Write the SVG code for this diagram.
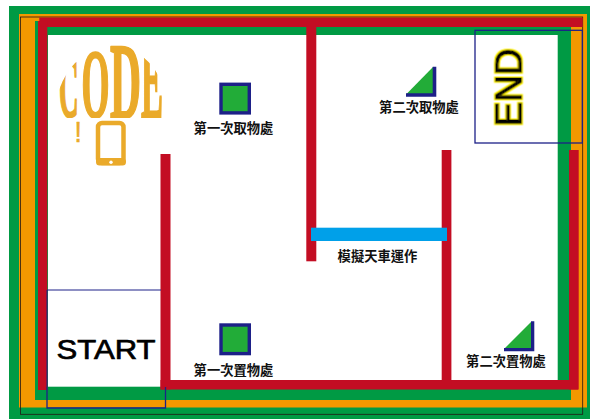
<svg xmlns="http://www.w3.org/2000/svg" width="590" height="419" viewBox="0 0 590 419">
<style>
.red{fill:#c30d23}
.sq{fill:#22ac38;stroke:#1d2088;stroke-width:3.4}
.tri{fill:#22ac38}
.navy{fill:#1d2088}
.box{fill:none;stroke:#1d2088;stroke-width:1.3}
.lbl{font-family:"Noto Sans CJK TC","Noto Sans CJK SC",sans-serif;font-size:13.3px;font-weight:700;fill:#111;text-anchor:middle}
.logo{font-family:"Liberation Serif",serif;font-weight:700;font-size:100px;fill:#eaaa2a;stroke:#eaaa2a;stroke-width:1.800;vector-effect:non-scaling-stroke}
.big{font-family:"Liberation Sans",sans-serif;fill:#000;stroke:#000;stroke-width:.7}
</style>
<defs>
<clipPath id="dome"><path d="M59 118V90Q65 72 80 58L82 46H110L112 44Q130 44 142 56Q156 67 164 87V118Z"/></clipPath>
<filter id="glow" x="-10%" y="-10%" width="120%" height="120%">
<feFlood flood-color="#fff100" result="y"/>
<feMorphology in="SourceAlpha" operator="dilate" radius="1" result="d"/>
<feComposite in="y" in2="d" operator="in" result="o"/>
<feMerge><feMergeNode in="o"/><feMergeNode in="SourceGraphic"/></feMerge>
</filter>
</defs>
<rect width="590" height="419" fill="#fff"/>
<g id="frame">
<rect x="9" y="6" width="581" height="413" fill="#009a44"/>
<rect x="19" y="14" width="568" height="393.500" fill="#f39800"/>
<rect x="35" y="21" width="536" height="379" fill="#009a44"/>
<rect x="48" y="35" width="509.700" height="351.700" fill="#fff"/>
<rect x="20.500" y="17" width="562.200" height="397.300" fill="none" stroke="#231815" stroke-width="0.8"/>
</g>
<g id="walls">
<rect class="red" x="39.300" y="17.500" width="543.400" height="9.500"/>
<rect class="red" x="38" y="21" width="9.300" height="369"/>
<rect class="red" x="160.500" y="154" width="10" height="235.500"/>
<rect class="red" x="160.500" y="380" width="417.500" height="9.500"/>
<rect class="red" x="306.300" y="27" width="10" height="234.300"/>
<rect class="red" x="441.700" y="150" width="9.700" height="232"/>
<rect class="red" x="569" y="150" width="9.700" height="239.500"/>
</g>
<g id="crane">
<rect x="311" y="227.700" width="136" height="13.300" fill="#00a0e9"/>
<text class="lbl" x="377.500" y="261">模擬天車運作</text>
</g>
<g id="first-pick">
<rect class="sq" x="221" y="84.300" width="28.300" height="28.600"/>
<text class="lbl" x="233.500" y="132.500">第一次取物處</text>
</g>
<g id="first-place">
<rect class="sq" x="221" y="325" width="28.300" height="28.600"/>
<text class="lbl" x="233.500" y="374.500">第一次置物處</text>
</g>
<g id="second-pick">
<polygon class="tri" points="406,94.500 433,67 433,94.500"/>
<path class="navy" d="M406 93.200H432.700V66.700H436.300V96.700H406Z"/>
<text class="lbl" x="419" y="112">第二次取物處</text>
</g>
<g id="second-place">
<polygon class="tri" points="504,349 531,322 531,349"/>
<path class="navy" d="M504 348H531V321.300H534.300V351.300H504Z"/>
<text class="lbl" x="506" y="366">第二次置物處</text>
</g>
<g id="start">
<path d="M161 290H47V387" fill="none" stroke="#1d2088" stroke-width="1"/>
<path class="box" d="M47 387V408H165.500V387"/>
<text class="big" x="56.500" y="359" font-size="28" textLength="99" lengthAdjust="spacingAndGlyphs">START</text>
</g>
<g id="end">
<rect class="box" x="475" y="30.300" width="107.300" height="112.700"/>
<text class="big" filter="url(#glow)" transform="translate(521.500 126.500) rotate(-90)" font-size="37" textLength="78" lengthAdjust="spacingAndGlyphs" style="stroke-width:1.200">END</text>
</g>
<g id="logo">
<g clip-path="url(#dome)">
<text class="logo" transform="translate(59 116.500) scale(.27 .84)">C</text>
<text class="logo" transform="translate(81.500 116.500) scale(.36 .97)">O</text>
<text class="logo" transform="translate(110 117.500) scale(.43 1.07)">D</text>
<text class="logo" transform="translate(141 117.500) scale(.33 1.15)">E</text>
</g>
<text class="logo" transform="translate(74.500 141.500) scale(.9 1)" style="font-size:29px;font-family:'Liberation Sans',sans-serif;font-weight:400;stroke-width:.5">!</text>
<rect x="98" y="123" width="25.500" height="40" rx="4" fill="none" stroke="#eaaa2a" stroke-width="4.500"/>
<rect x="96" y="158" width="30" height="7.500" rx="3.500" fill="#eaaa2a"/>
<circle cx="111" cy="162.300" r="1.700" fill="#fff"/>
</g>
</svg>
